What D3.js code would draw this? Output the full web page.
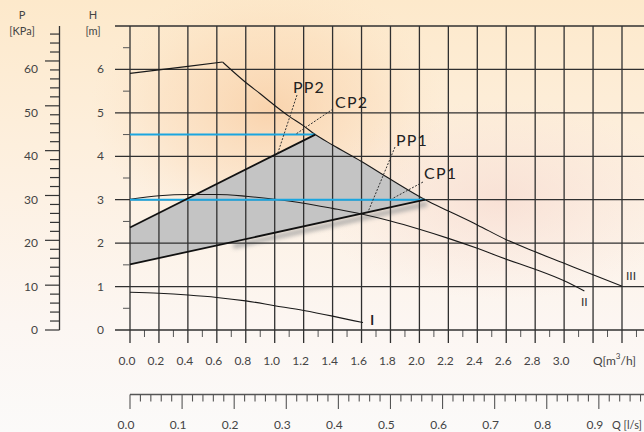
<!DOCTYPE html>
<html>
<head>
<meta charset="utf-8">
<script src="https://cdn.jsdelivr.net/npm/d3@7"></script>
<style>
  body { margin: 0; padding: 0; }
  svg { display: block; }
  text { font-family: "Lato", "DejaVu Sans", sans-serif; fill: #444; }
</style>
</head>
<body>
<div id="chart"></div>
<script>
// pump curves, Q in m3/h, H in m
var curveI = [[0, 0.87], [0.2, 0.845], [0.4, 0.805], [0.6, 0.75], [0.8, 0.67], [1.0, 0.56], [1.2, 0.45], [1.4, 0.32], [1.61, 0.17]];
var curveII = [[0, 3.01], [0.2, 3.09], [0.4, 3.12], [0.6, 3.12], [0.8, 3.08], [1.0, 3.01], [1.2, 2.92], [1.4, 2.80], [1.6, 2.67], [1.8, 2.51], [2.0, 2.32], [2.2, 2.11], [2.4, 1.88], [2.6, 1.63], [2.8, 1.40], [3.0, 1.135], [3.14, 0.90]];
var curveIIIrise = [[0, 5.91], [0.2, 5.99], [0.4, 6.07], [0.64, 6.17]];
var curveIIIfall = [[0.64, 6.17], [0.72, 5.93], [0.8, 5.70], [0.9, 5.44], [1.0, 5.17], [1.1, 4.92], [1.2, 4.70], [1.28, 4.50], [1.4, 4.26], [1.6, 3.88], [1.8, 3.47], [2.04, 3.0], [2.2, 2.74], [2.4, 2.42], [2.6, 2.08], [2.8, 1.80], [3.0, 1.535], [3.2, 1.27], [3.4, 1.01]];

// control points and proportional/constant pressure lines
var lineCP2 = [[0, 2.36], [1.28, 4.50]];
var lineCP1 = [[0, 1.51], [2.04, 3.0]];
var constH = [4.5, 3.0];
var pointPP2 = [1.02, 4.06];
var pointCP2 = [1.15, 4.52];
var pointPP1 = [1.645, 2.72];
var pointCP1 = [1.81, 3.02];

// tick labels
var qTicks = d3.range(0, 3.01, 0.2);
var hTicks = [0, 1, 2, 3, 4, 5, 6];
var pTicks = [0, 10, 20, 30, 40, 50, 60];
var lsTicks = [0, 0.1, 0.2, 0.3, 0.4, 0.5, 0.6, 0.7, 0.8, 0.9];

var width = 644, height = 432;

var svg = d3.select("#chart").append("svg")
    .attr("width", width)
    .attr("height", height);

var x = d3.scaleLinear().domain([0, 3.4]).range([130, 622]);
var y = d3.scaleLinear().domain([0, 7]).range([330, 26]);
var p = d3.scaleLinear().domain([0, 67.8]).range([330, 26]);
var xl = d3.scaleLinear().domain([0, 1]).range([x(0), x(3.6)]);

// background
var defs = svg.append("defs");
var bg = defs.append("linearGradient").attr("id", "bg")
    .attr("x1", 0).attr("y1", 0).attr("x2", 0).attr("y2", 1);
bg.append("stop").attr("offset", "0%").attr("stop-color", "#fde9cb");
bg.append("stop").attr("offset", "45%").attr("stop-color", "#fdf1e3");
bg.append("stop").attr("offset", "75%").attr("stop-color", "#fcf6f2");
bg.append("stop").attr("offset", "100%").attr("stop-color", "#fbfaf9");

var glow = defs.append("radialGradient").attr("id", "glow");
glow.append("stop").attr("offset", "0%").attr("stop-color", "#f7c290").attr("stop-opacity", 0.6);
glow.append("stop").attr("offset", "60%").attr("stop-color", "#f9d0a6").attr("stop-opacity", 0.3);
glow.append("stop").attr("offset", "100%").attr("stop-color", "#fbe0c0").attr("stop-opacity", 0);

var pink = defs.append("radialGradient").attr("id", "pink");
pink.append("stop").attr("offset", "0%").attr("stop-color", "#f5d4ca").attr("stop-opacity", 0.55);
pink.append("stop").attr("offset", "100%").attr("stop-color", "#f6dcd4").attr("stop-opacity", 0);

defs.append("filter").attr("id", "blur")
    .attr("x", "-20%").attr("y", "-50%").attr("width", "140%").attr("height", "200%")
    .append("feGaussianBlur").attr("stdDeviation", 2);

svg.append("rect").attr("width", width).attr("height", height).attr("fill", "url(#bg)");
svg.append("ellipse").attr("cx", 270).attr("cy", 110).attr("rx", 180).attr("ry", 130).attr("fill", "url(#glow)");
svg.append("ellipse").attr("cx", 500).attr("cy", 200).attr("rx", 190).attr("ry", 100).attr("fill", "url(#pink)");

var line = d3.line()
    .x(function(d) { return x(d[0]); })
    .y(function(d) { return y(d[1]); });

var smooth = d3.line()
    .x(function(d) { return x(d[0]); })
    .y(function(d) { return y(d[1]); })
    .curve(d3.curveMonotoneX);

// shaded working area
var q1 = lineCP2[1][0], q2 = lineCP1[1][0];
var area = [lineCP2[0], lineCP2[1]]
    .concat(curveIIIfall.filter(function(d) { return d[0] > q1 && d[0] < q2; }))
    .concat([lineCP1[1], lineCP1[0]]);

svg.append("path")
    .attr("d", line([[0.7, lineCP1[0][1] + (lineCP1[1][1] - lineCP1[0][1]) * 0.7 / q2], lineCP1[1]]))
    .attr("transform", "translate(2,4)")
    .style("fill", "none")
    .style("stroke", "#a0a0a0")
    .style("stroke-width", 5)
    .style("opacity", 0.8)
    .attr("filter", "url(#blur)");

svg.append("path")
    .attr("d", line(area) + "Z")
    .style("fill", "#c4c4c4")
    .style("stroke", "none");

// grid
var grid = svg.append("g").style("stroke", "#303030").style("stroke-width", 1.3);

grid.selectAll(".vl")
    .data(d3.range(0, 3.61, 0.2))
    .enter().append("line")
    .attr("x1", function(d) { return x(d); })
    .attr("x2", function(d) { return x(d); })
    .attr("y1", y(7))
    .attr("y2", y(0) + 13);

grid.selectAll(".vt")
    .data(d3.range(0.1, 3.61, 0.2))
    .enter().append("line")
    .attr("x1", function(d) { return x(d); })
    .attr("x2", function(d) { return x(d); })
    .attr("y1", y(0))
    .attr("y2", y(0) + 7)
    .style("stroke", "#555")
    .style("stroke-width", 1);

grid.selectAll(".hl")
    .data(d3.range(0, 7.01, 1))
    .enter().append("line")
    .attr("x1", x(0) - 15)
    .attr("x2", width)
    .attr("y1", function(d) { return y(d); })
    .attr("y2", function(d) { return y(d); });

grid.selectAll(".ht")
    .data(d3.range(0.5, 7, 1))
    .enter().append("line")
    .attr("x1", x(0) - 7)
    .attr("x2", x(0))
    .attr("y1", function(d) { return y(d); })
    .attr("y2", function(d) { return y(d); })
    .style("stroke", "#555")
    .style("stroke-width", 1);

// curves
var curves = svg.append("g").style("fill", "none").style("stroke", "#1a1a1a").style("stroke-width", 1.1);
curves.append("path").attr("d", smooth(curveI));
curves.append("path").attr("d", smooth(curveII));
curves.append("path").attr("d", line(curveIIIrise));
curves.append("path").attr("d", smooth(curveIIIfall));

// constant pressure lines
svg.selectAll(".blue")
    .data([[constH[0], lineCP2[1][0]], [constH[1], lineCP1[1][0]]])
    .enter().append("line")
    .attr("x1", x(0))
    .attr("x2", function(d) { return x(d[1]); })
    .attr("y1", function(d) { return y(d[0]); })
    .attr("y2", function(d) { return y(d[0]); })
    .style("stroke", "#1ba6e0")
    .style("stroke-width", 2);

// proportional lines
svg.selectAll(".prop")
    .data([lineCP2, lineCP1])
    .enter().append("path")
    .attr("d", line)
    .style("fill", "none")
    .style("stroke", "#111")
    .style("stroke-width", 1.8);

// leaders
var leaders = [
  { pt: pointPP2, from: [297, 95], label: "PP2", tx: 293, ty: 93 },
  { pt: pointCP2, from: [333, 109], label: "CP2", tx: 335, ty: 108 },
  { pt: pointPP1, from: [395, 147], label: "PP1", tx: 396, ty: 146 },
  { pt: pointCP1, from: [423, 182], label: "CP1", tx: 424, ty: 179 }
];

svg.selectAll(".lead")
    .data(leaders)
    .enter().append("line")
    .attr("x1", function(d) { return d.from[0]; })
    .attr("y1", function(d) { return d.from[1]; })
    .attr("x2", function(d) { return x(d.pt[0]); })
    .attr("y2", function(d) { return y(d.pt[1]); })
    .style("stroke", "#333")
    .style("stroke-width", 1)
    .style("stroke-dasharray", "2,1.5");

svg.selectAll(".leadtxt")
    .data(leaders)
    .enter().append("text")
    .attr("x", function(d) { return d.tx; })
    .attr("y", function(d) { return d.ty; })
    .style("font-size", "16px")
    .style("fill", "#222")
    .style("letter-spacing", "1.2px")
    .text(function(d) { return d.label; });

// curve names
svg.append("text").attr("x", x(1.66)).attr("y", 325).style("font-size", "13px").style("font-weight", "bold").style("fill", "#222").text("I");
svg.append("text").attr("x", 581).attr("y", 306).style("font-size", "12px").style("fill", "#333").text("II");
svg.append("text").attr("x", 626).attr("y", 280).style("font-size", "12px").style("fill", "#333").text("III");

// Q axis labels
svg.selectAll(".ql")
    .data(qTicks)
    .enter().append("text")
    .attr("x", function(d) { return x(d) - 3; })
    .attr("y", 365)
    .attr("text-anchor", "middle")
    .style("font-size", "12px")
    .text(function(d) { return d3.format(".1f")(d); });

var qTitle = svg.append("text").attr("x", 593).attr("y", 365).style("font-size", "12px");
qTitle.append("tspan").text("Q[m");
qTitle.append("tspan").attr("dy", -6).style("font-size", "8px").text("3");
qTitle.append("tspan").attr("dy", 6).text("/h]");

// H axis labels
svg.selectAll(".hlab")
    .data(hTicks)
    .enter().append("text")
    .attr("x", 104)
    .attr("y", function(d) { return y(d) + 4; })
    .attr("text-anchor", "end")
    .style("font-size", "12px")
    .text(function(d) { return d; });

svg.append("text").attr("x", 93).attr("y", 19).attr("text-anchor", "middle").style("font-size", "11px").text("H");
svg.append("text").attr("x", 93).attr("y", 35).attr("text-anchor", "middle").style("font-size", "11px").text("[m]");

// P axis
var pAxis = svg.append("g").style("stroke", "#333");
pAxis.append("line")
    .attr("x1", 59.5).attr("x2", 59.5)
    .attr("y1", p(67.8)).attr("y2", p(0))
    .style("stroke-width", 1.3);
pAxis.selectAll(".pt")
    .data(d3.range(0, 67, 2))
    .enter().append("line")
    .attr("x1", function(d) { return d % 10 === 0 ? 45 : 50; })
    .attr("x2", 59.5)
    .attr("y1", function(d) { return p(d); })
    .attr("y2", function(d) { return p(d); })
    .style("stroke-width", 1.2);

svg.selectAll(".plab")
    .data(pTicks)
    .enter().append("text")
    .attr("x", 38)
    .attr("y", function(d) { return y(d / 10) + 4; })
    .attr("text-anchor", "end")
    .style("font-size", "12px")
    .text(function(d) { return d; });

svg.append("text").attr("x", 22).attr("y", 19).attr("text-anchor", "middle").style("font-size", "11px").text("P");
svg.append("text").attr("x", 22).attr("y", 35).attr("text-anchor", "middle").style("font-size", "11px").text("[KPa]");

// l/s axis
var lsAxis = svg.append("g").style("stroke", "#555");
lsAxis.append("line")
    .attr("x1", xl(0)).attr("x2", width)
    .attr("y1", 394.5).attr("y2", 394.5)
    .style("stroke-width", 1.3);
lsAxis.selectAll(".lt")
    .data(d3.range(0, 1.0, 0.02))
    .enter().append("line")
    .attr("x1", function(d) { return xl(d); })
    .attr("x2", function(d) { return xl(d); })
    .attr("y1", 394.5)
    .attr("y2", function(d, i) { return i % 5 === 0 ? 409 : 401.5; })
    .style("stroke-width", 1.1);

svg.selectAll(".lsl")
    .data(lsTicks)
    .enter().append("text")
    .attr("x", function(d) { return xl(d) - 4; })
    .attr("y", 429)
    .attr("text-anchor", "middle")
    .style("font-size", "12px")
    .text(function(d) { return d3.format(".1f")(d); });

svg.append("text").attr("x", 612).attr("y", 429).style("font-size", "11px").text("Q [l/s]");
</script>
</body>
</html>
